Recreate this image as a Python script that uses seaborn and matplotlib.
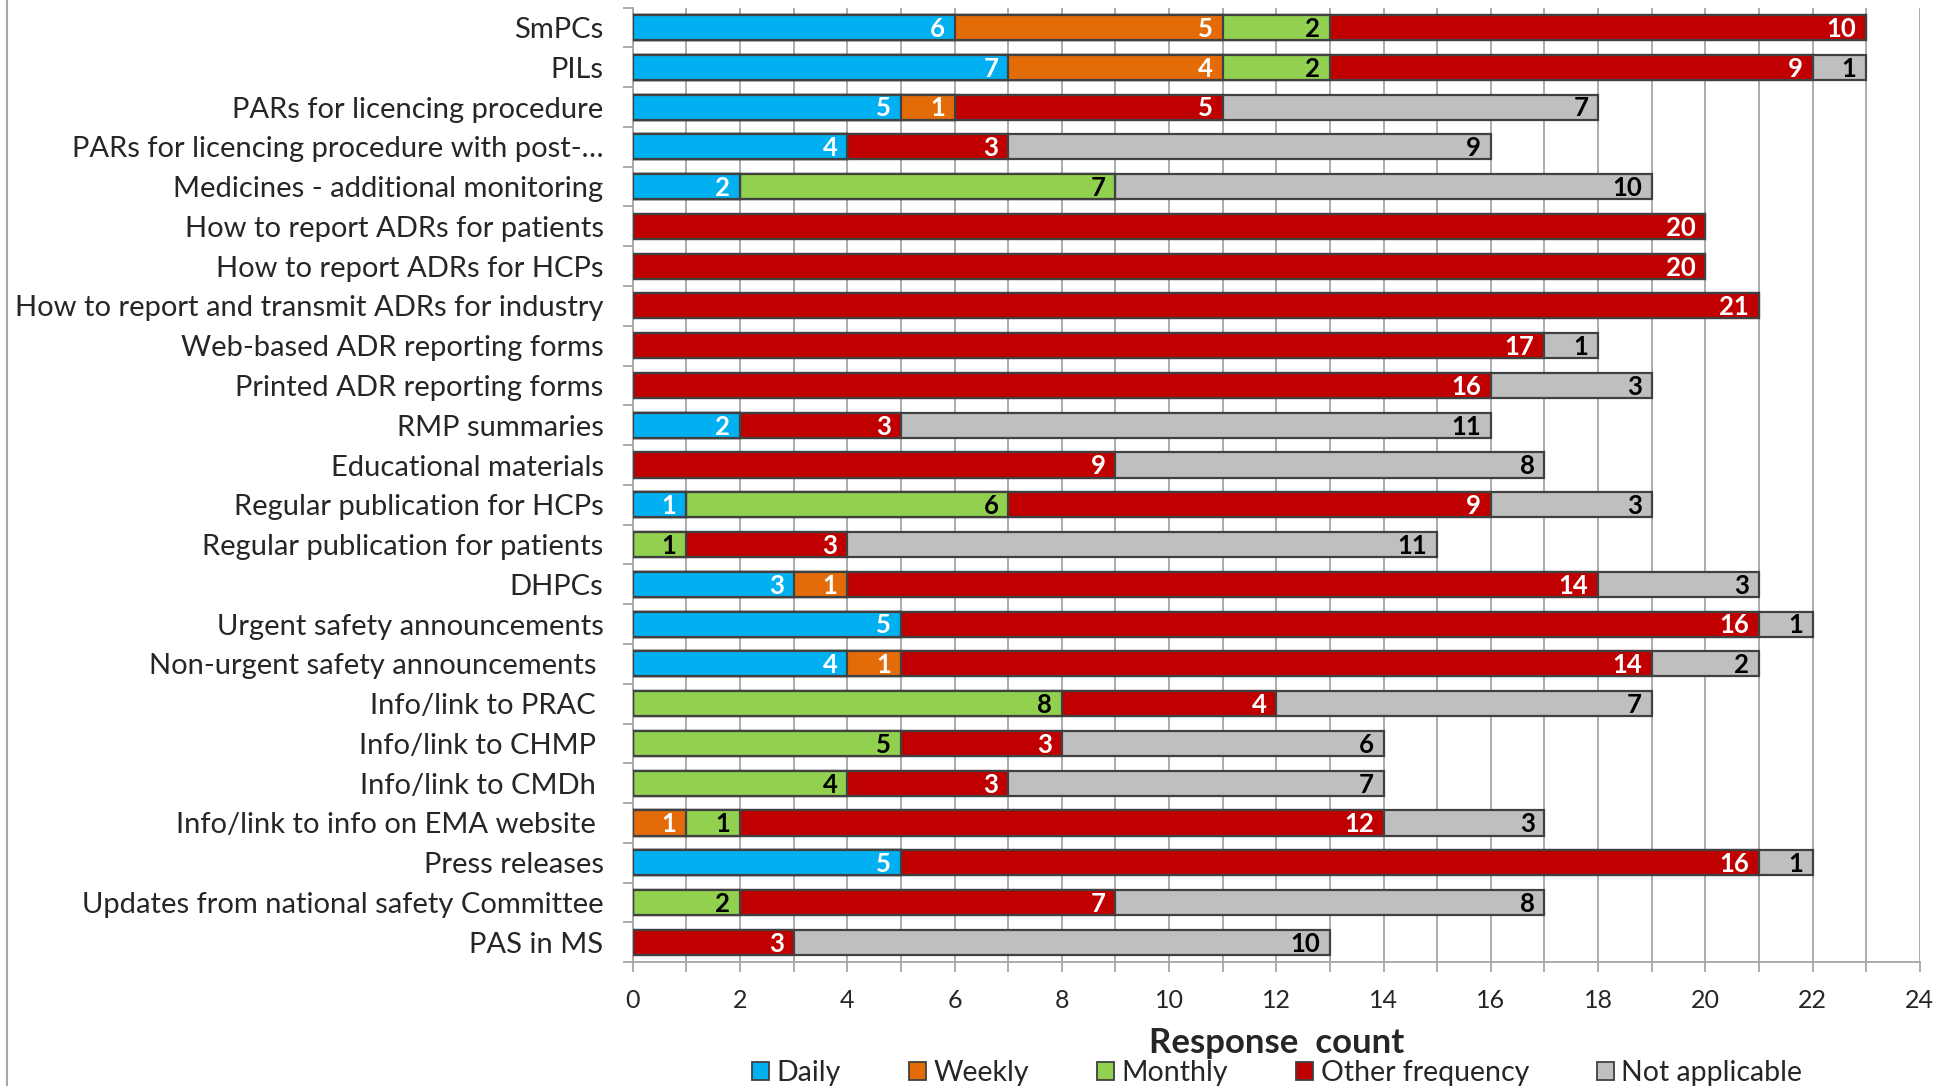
import numpy as np
import pandas as pd
import matplotlib
matplotlib.use("Agg")
import matplotlib.pyplot as plt
import seaborn as sns
from matplotlib.patches import Patch
from matplotlib.lines import Line2D
from matplotlib.ticker import MultipleLocator

# categories, top to bottom
categories = [
    "SmPCs", "PILs", "PARs for licencing procedure",
    "PARs for licencing procedure with post-…",
    "Medicines - additional monitoring",
    "How to report ADRs for patients", "How to report ADRs for HCPs",
    "How to report and transmit ADRs for industry",
    "Web-based ADR reporting forms", "Printed ADR reporting forms",
    "RMP summaries", "Educational materials",
    "Regular publication for HCPs", "Regular publication for patients",
    "DHPCs", "Urgent safety announcements",
    "Non-urgent safety announcements ", "Info/link to PRAC ",
    "Info/link to CHMP ", "Info/link to CMDh ",
    "Info/link to info on EMA website ", "Press releases",
    "Updates from national safety Committee", "PAS in MS",
]

daily = [6, 7, 5, 4, 2, 0, 0, 0, 0, 0, 2, 0, 1, 0, 3, 5, 4, 0, 0, 0, 0, 5, 0, 0]
weekly = [5, 4, 1, 0, 0, 0, 0, 0, 0, 0, 0, 0, 0, 0, 1, 0, 1, 0, 0, 0, 1, 0, 0, 0]
monthly = [2, 2, 0, 0, 7, 0, 0, 0, 0, 0, 0, 0, 6, 1, 0, 0, 0, 8, 5, 4, 1, 0, 2, 0]
other = [10, 9, 5, 3, 0, 20, 20, 21, 17, 16, 3, 9, 9, 3, 14, 16, 14, 4, 3, 3, 12, 16, 7, 3]
not_applicable = [0, 1, 7, 9, 10, 0, 0, 0, 1, 3, 11, 8, 3, 11, 3, 1, 2, 7, 6, 7, 3, 1, 8, 10]

series_names = ["Daily", "Weekly", "Monthly", "Other frequency", "Not applicable"]
colors = ["#00B0F0", "#E36C09", "#92D050", "#C00000", "#BFBFBF"]
text_colors = ["white", "white", "black", "white", "black"]

df = pd.DataFrame({"category": categories, "Daily": daily, "Weekly": weekly,
                   "Monthly": monthly, "Other frequency": other,
                   "Not applicable": not_applicable})
cum = df[series_names].cumsum(axis=1)

sns.set_style("white")
plt.rcParams["font.family"] = ["Lato", "DejaVu Sans"]

fig = plt.figure(figsize=(19.53, 10.86), dpi=100)
ax = fig.add_axes([0.324, 0.114, 0.659, 0.879])

edge = "#404040"
# stacked bars: draw cumulative totals from the last series to the first
for name, col in zip(series_names[::-1], colors[::-1]):
    sns.barplot(x=cum[name], y=df["category"], orient="h", color=col,
                saturation=1, edgecolor=edge, linewidth=1.6, width=0.63,
                ax=ax, zorder=3)

# value labels at the inner right end of each segment
for name, tc in zip(series_names, text_colors):
    for i, v in enumerate(df[name]):
        if v > 0:
            ax.annotate(str(v), (cum[name].iloc[i], i), xytext=(-7, -1),
                        textcoords="offset points", ha="right", va="center",
                        color=tc, fontsize=18.5, fontweight="bold", zorder=5)

ax.set_xlim(0, 24)
ax.set_ylim(len(categories) - 0.5, -0.5)
ax.xaxis.set_major_locator(MultipleLocator(2))
ax.xaxis.set_minor_locator(MultipleLocator(1))
ax.set_yticks(np.arange(-0.5, len(categories)), minor=True)
ax.grid(True, axis="x", which="both", color="#A6A6A6", linewidth=1.3, zorder=0)
ax.grid(False, axis="y", which="both")
ax.set_axisbelow(True)

for s in ["top", "right"]:
    ax.spines[s].set_visible(False)
for s in ["left", "bottom"]:
    ax.spines[s].set_color("#A6A6A6")
    ax.spines[s].set_linewidth(1.3)

ax.tick_params(axis="y", which="major", length=0, pad=21, labelsize=21)
ax.tick_params(axis="y", which="minor", length=7, width=1.3, color="#A6A6A6",
               direction="out", left=True)
ax.tick_params(axis="x", which="both", length=7, width=1.3, color="#A6A6A6",
               direction="out", bottom=True, pad=12, labelsize=18)

ax.set_ylabel("")
ax.set_xlabel("Response  count", fontsize=25, fontweight="bold")
ax.xaxis.set_label_coords(0.5, -0.085)
ax.xaxis.label.set_va("center")

handles = [Patch(facecolor=c, edgecolor=edge, linewidth=1.3) for c in colors]
fig.legend(handles, series_names, loc="center", bbox_to_anchor=(0.654, 0.012),
           ncol=5, frameon=False, fontsize=20.5, handlelength=0.6,
           handleheight=0.6, handletextpad=0.25, columnspacing=2.4)

fig.add_artist(Line2D([0.0035, 0.0035], [0, 1], color="#A6A6A6", linewidth=1.5))

fig.savefig("out.png", dpi=100)
